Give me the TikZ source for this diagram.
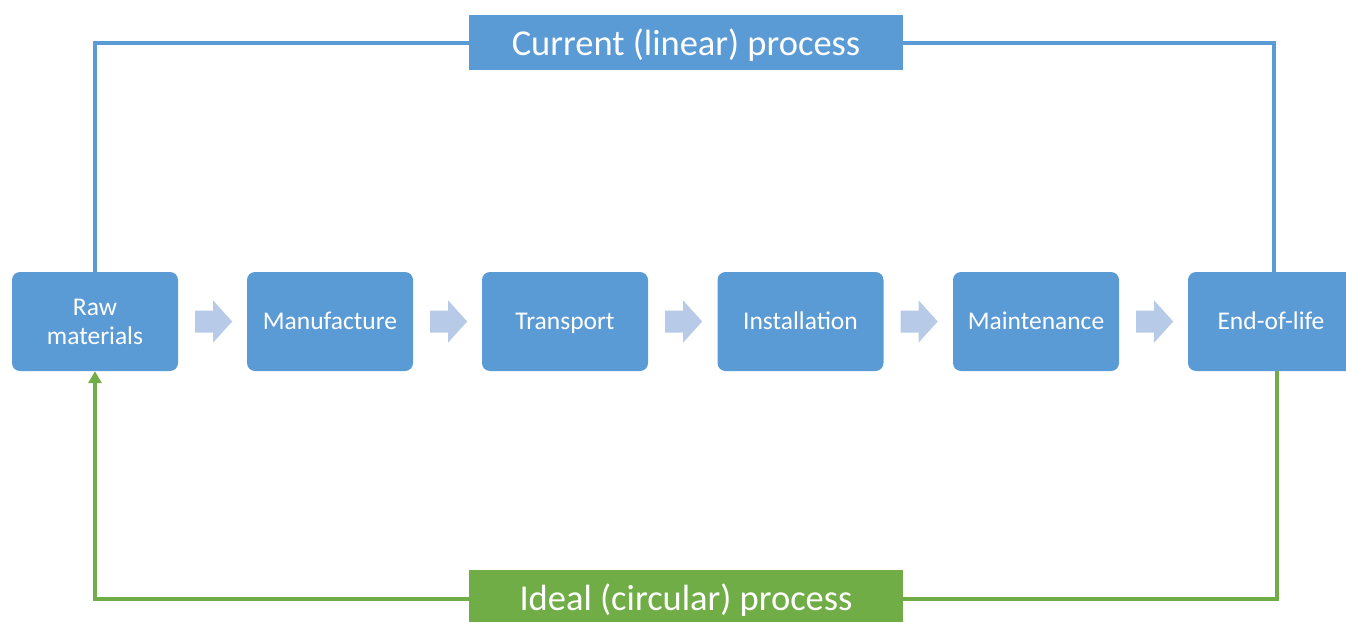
\documentclass[tikz,border=0pt]{standalone}
\usepackage{fontspec}
\setmainfont{Carlito}
\usetikzlibrary{arrows.meta}
\definecolor{boxblue}{HTML}{5B9BD5}
\definecolor{lightarrow}{HTML}{B7CBE8}
\definecolor{procgreen}{HTML}{70AD47}
\tikzset{
  stagebox/.style={fill=boxblue, rounded corners=8pt, minimum width=166pt, minimum height=99pt,
    inner sep=0pt, text=white, font=\fontsize{25.5}{29}\selectfont, align=center},
  oneline/.style={text height=16.5pt, text depth=0pt},
  labelbox/.style={minimum width=434pt, minimum height=55pt, inner sep=0pt, text=white,
    font=\fontsize{36.5}{42}\selectfont, text height=26pt, text depth=0pt},
  blueline/.style={draw=boxblue, line width=3.5pt},
  greenline/.style={draw=procgreen, line width=3.5pt},
  blockarrow/.pic={\fill[lightarrow] (0,-11) -- (18,-11) -- (18,-21) -- (37,0) -- (18,21) -- (18,11) -- (0,11) -- cycle;}
}
\begin{document}
\begin{tikzpicture}[x=1pt,y=-1pt]
\useasboundingbox (0,0) rectangle (1346,621);
\clip (0,0) rectangle (1346,621);
% stage boxes
\node[stagebox] (raw) at (95,321.5) {Raw\\materials};
\node[stagebox, oneline] (man) at (330,321.5) {Manufacture};
\node[stagebox, oneline] (tra) at (565,321.5) {Transport};
\node[stagebox, oneline] (ins) at (800.5,321.5) {Installation};
\node[stagebox, oneline] (mai) at (1036,321.5) {Maintenance};
\node[stagebox, oneline] (eol) at (1271,321.5) {End-of-life};
% block arrows
\foreach \n in {raw,man,tra,ins,mai}{
  \path (\n.east) ++(17,0) pic {blockarrow};
}
% corners of loops
\coordinate (tl) at (95,43);
\coordinate (tr) at (1274,43);
\coordinate (bl) at (95,599);
\coordinate (br) at (1277,599);
% top (linear) loop
\draw[blueline] (raw.north) -- (tl) -- (tr) -- (tr |- eol.north);
% bottom (circular) loop
\draw[greenline, -{Triangle[length=12pt,width=13pt]}] (br |- eol.south) -- (br) -- (bl) -- (raw.south);
% labels
\node[labelbox, fill=boxblue] (cur) at (686,42.5) {Current (linear) process};
\node[labelbox, fill=procgreen] (ide) at (686,597.5) {Ideal (circular) process};
\end{tikzpicture}
\end{document}
